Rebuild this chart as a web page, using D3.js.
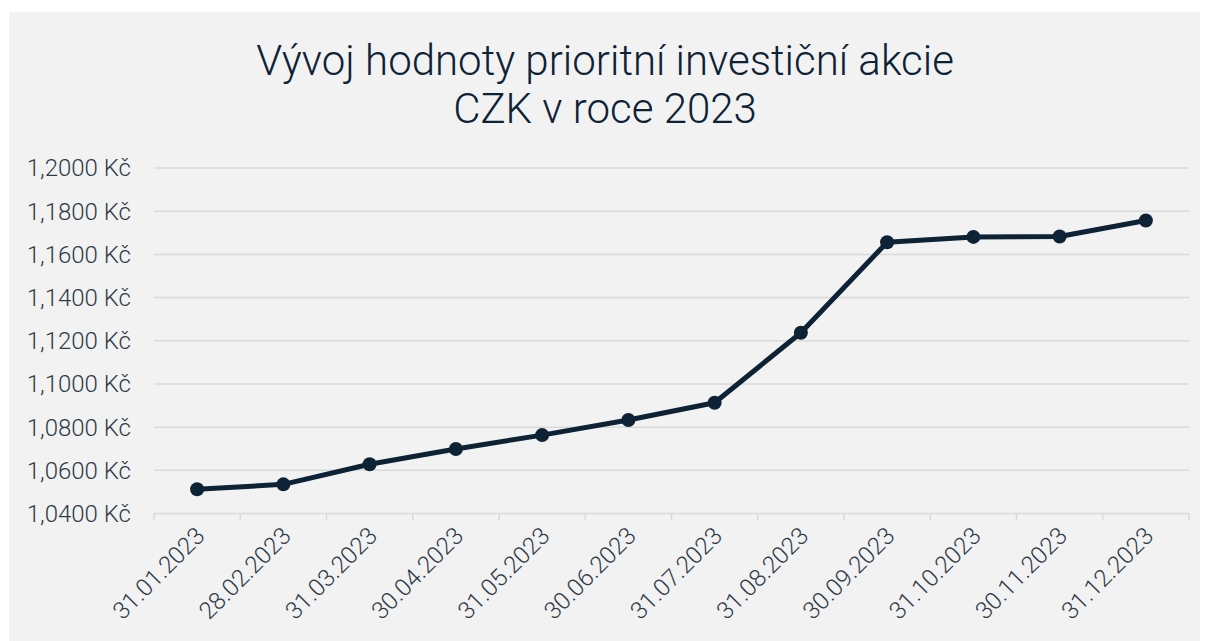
<!DOCTYPE html>
<html lang="cs">
<head>
    <meta charset="UTF-8">
    <title>Vývoj hodnoty prioritní investiční akcie CZK v roce 2023</title>
    <script src="https://d3js.org/d3.v7.min.js"></script>
    <style>
        body { margin: 0; background: #ffffff; font-family: Roboto, "Noto Sans", sans-serif; overflow: hidden; }
        .tick-label { font-size: 24px; font-weight: 300; fill: #2e3b48; }
        .title { font-size: 42px; font-weight: 300; fill: #0e2236; }
    </style>
</head>
<body>
    <div id="chart"></div>
    <script>
        const dates = ["31.01.2023", "28.02.2023", "31.03.2023", "30.04.2023", "31.05.2023", "30.06.2023",
                       "31.07.2023", "31.08.2023", "30.09.2023", "31.10.2023", "30.11.2023", "31.12.2023"];
        const values = [1.0512, 1.0535, 1.0628, 1.0699, 1.0763, 1.0833,
                        1.0913, 1.1237, 1.1656, 1.1681, 1.1683, 1.1757];
        const yTicks = [1.04, 1.06, 1.08, 1.10, 1.12, 1.14, 1.16, 1.18, 1.20];
        const titleLines = ["Vývoj hodnoty prioritní investiční akcie", "CZK v roce 2023"];

        const width = 1209, height = 641;
        const margin = { top: 168, right: 20, bottom: 128, left: 154 };

        const svg = d3.select("#chart").append("svg")
            .attr("width", width)
            .attr("height", height);

        // grey panel
        svg.append("rect")
            .attr("x", 9).attr("y", 12)
            .attr("width", 1191).attr("height", height - 12)
            .attr("fill", "#f2f2f2");

        svg.selectAll(".title")
            .data(titleLines)
            .enter().append("text")
            .attr("class", "title")
            .attr("x", 605)
            .attr("y", (d, i) => 75 + i * 48)
            .attr("text-anchor", "middle")
            .text(d => d);

        const x = d3.scaleBand().domain(dates).range([margin.left, width - margin.right]);
        const y = d3.scaleLinear().domain([1.04, 1.20]).range([513.5, margin.top]);

        const fmt = v => d3.format(".4f")(v).replace(".", ",") + " Kč";

        // gridlines
        svg.append("g").selectAll("line")
            .data(yTicks.filter(t => t > 1.04))
            .enter().append("line")
            .attr("x1", margin.left).attr("x2", width - margin.right)
            .attr("y1", d => y(d)).attr("y2", d => y(d))
            .attr("stroke", "#d9d9d9").attr("stroke-width", 1.5);

        // y labels
        svg.append("g").selectAll("text")
            .data(yTicks)
            .enter().append("text")
            .attr("class", "tick-label")
            .attr("x", 131)
            .attr("y", d => y(d))
            .attr("dy", "0.35em")
            .attr("text-anchor", "end")
            .text(fmt);

        // x axis
        const xAxis = svg.append("g")
            .attr("transform", `translate(0, ${y(1.04)})`);
        xAxis.append("line")
            .attr("x1", margin.left).attr("x2", width - margin.right)
            .attr("stroke", "#d9d9d9").attr("stroke-width", 1.5);
        const bounds = dates.map(d => x(d)).concat([x.range()[1]]);
        xAxis.selectAll(".tk")
            .data(bounds)
            .enter().append("line")
            .attr("x1", d => d).attr("x2", d => d)
            .attr("y1", 0).attr("y2", 7)
            .attr("stroke", "#d9d9d9").attr("stroke-width", 1.5);

        xAxis.selectAll(".xl")
            .data(dates)
            .enter().append("text")
            .attr("class", "tick-label")
            .attr("text-anchor", "end")
            .attr("transform", d => `translate(${x(d) + x.bandwidth() / 2 + 3}, 18) rotate(-45)`)
            .attr("dy", "0.35em")
            .text(d => d);

        // line + markers
        const line = d3.line()
            .x((d, i) => x(dates[i]) + x.bandwidth() / 2)
            .y(d => y(d));

        svg.append("path")
            .datum(values)
            .attr("d", line)
            .attr("fill", "none")
            .attr("stroke", "#0e2236")
            .attr("stroke-width", 5)
            .attr("stroke-linejoin", "round");

        svg.selectAll(".pt")
            .data(values)
            .enter().append("circle")
            .attr("cx", (d, i) => x(dates[i]) + x.bandwidth() / 2)
            .attr("cy", d => y(d))
            .attr("r", 7)
            .attr("fill", "#0e2236");
    </script>
</body>
</html>
